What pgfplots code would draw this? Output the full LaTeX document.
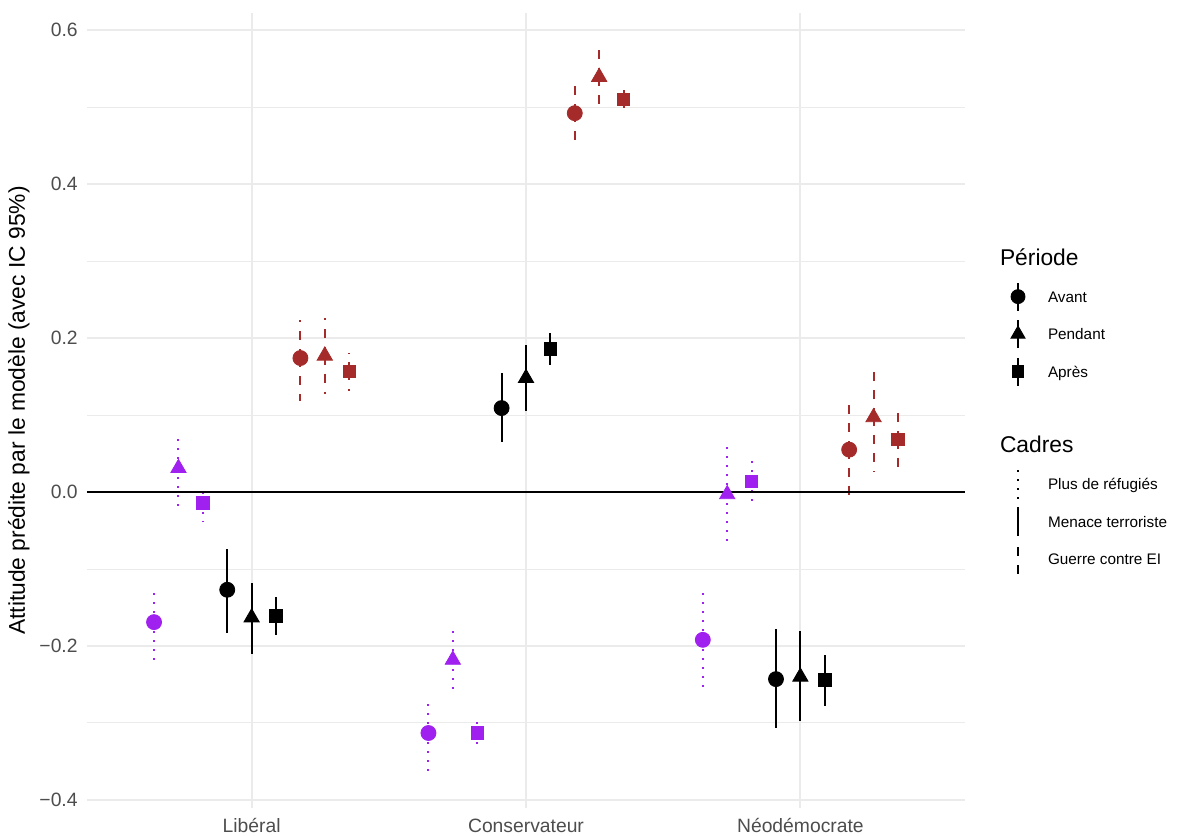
\documentclass[border=0pt]{standalone}
\usepackage{pgfplots}
\pgfplotsset{compat=1.18}
\usepackage{pgfplotstable}
\usepackage{fontspec}
\setmainfont{Liberation Sans}

\definecolor{refcol}{HTML}{A020F0}
\definecolor{warcol}{HTML}{A52A2A}
\definecolor{gridcol}{HTML}{EBEBEB}
\definecolor{tickcol}{HTML}{4D4D4D}

% Predicted attitude by party (cat: 1 = Libéral, 2 = Conservateur, 3 = Néodémocrate)
% y0/lo0/hi0 = Avant, y1/lo1/hi1 = Pendant, y2/lo2/hi2 = Après
\pgfplotstableread{
cat y0 lo0 hi0 y1 lo1 hi1 y2 lo2 hi2
1 -0.169 -0.219 -0.125  0.031 -0.019  0.075 -0.014 -0.038  0.009
2 -0.313 -0.362 -0.269 -0.218 -0.260 -0.176 -0.313 -0.331 -0.296
3 -0.192 -0.258 -0.128 -0.003 -0.071  0.058  0.014 -0.021  0.049
}\refugies
\pgfplotstableread{
cat y0 lo0 hi0 y1 lo1 hi1 y2 lo2 hi2
1 -0.127 -0.183 -0.074 -0.163 -0.210 -0.118 -0.161 -0.186 -0.136
2  0.109  0.065  0.154  0.148  0.105  0.191  0.186  0.165  0.206
3 -0.243 -0.307 -0.178 -0.240 -0.297 -0.181 -0.244 -0.278 -0.212
}\terreur
\pgfplotstableread{
cat y0 lo0 hi0 y1 lo1 hi1 y2 lo2 hi2
1  0.174  0.118  0.223  0.177  0.127  0.226  0.157  0.131  0.181
2  0.492  0.447  0.527  0.539  0.504  0.575  0.510  0.491  0.525
3  0.055 -0.014  0.114  0.097  0.026  0.156  0.068  0.030  0.104
}\guerre

\pgfplotsset{
  pr/.style={forget plot, only marks,
    error bars/y dir=both, error bars/y explicit, error bars/error mark=none},
  avant/.style={mark=*, mark size=3.75pt},
  pendant/.style={mark=triangle*, mark size=4.4pt},
  apres/.style={mark=square*, mark size=3.1pt},
  dotline/.style={line width=1pt, line cap=butt, dash pattern=on 1pt off 3.5pt},
  solidline/.style={line width=1pt, line cap=butt, solid},
  dashline/.style={line width=1pt, line cap=butt, dash pattern=on 4.5pt off 4.5pt},
  periodkey/.style={legend image code/.code={
      \draw[black, solid, line width=1pt] (0pt,-7pt) -- (0pt,7pt);
      \draw[##1] plot coordinates {(0pt,0pt)};
      \path[draw=none, fill=none] (-6pt,0pt) -- (6pt,0pt);}},
  framekey/.style={legend image code/.code={
      \draw[##1] (0pt,-7.25pt) -- (0pt,7.25pt);
      \path[draw=none, fill=none] (-6pt,0pt) -- (6pt,0pt);}},
}

\begin{document}
\begin{tikzpicture}
\useasboundingbox (0,0) rectangle (599pt,417.5pt);
\begin{axis}[
  at={(43.5pt,13.5pt)}, anchor=south west,
  scale only axis, width=439pt, height=397.5pt,
  xmin=0.4, xmax=3.6, ymin=-0.4104, ymax=0.6221,
  axis x line*=bottom, axis y line*=left,
  axis line style={draw=none},
  major tick length=0pt, minor tick length=0pt,
  tick style={draw=none},
  xtick={1,2,3},
  xticklabels={Libéral, Conservateur, Néodémocrate},
  ytick={-0.4,-0.2,0,0.2,0.4,0.6},
  yticklabels={−0.4,−0.2,0.0,0.2,0.4,0.6},
  minor ytick={-0.3,-0.1,0.1,0.3,0.5},
  xmajorgrids, ymajorgrids, yminorgrids,
  major grid style={gridcol, line width=1pt},
  minor grid style={gridcol, line width=0.5pt},
  tick label style={font=\fontsize{9.65}{11}\selectfont, text=tickcol},
  yticklabel style={inner sep=0pt, xshift=-4.5pt},
  xticklabel style={inner sep=0pt, text height=7pt, text depth=2pt, yshift=-5pt},
  ylabel={Attitude prédite par le modèle (avec IC 95\%)},
  ylabel style={at={(axis description cs:-0.0775,0.5)}, anchor=center,
    font=\fontsize{11.4}{13}\selectfont},
  legend style={at={(axis description cs:1.0467,0.7140)}, anchor=north west,
    draw=none, fill=none, inner sep=0pt, outer sep=0pt,
    row sep=0pt, column sep=9pt,
    nodes={inner sep=0pt, text height=12.1pt, text depth=6.65pt,
      font=\fontsize{7.65}{9}\selectfont}},
  legend cell align=left,
]

% Plus de réfugiés
\addplot[refcol, pr, avant, mark options={solid, draw=none, fill=refcol},
  error bars/error bar style={refcol, dotline}]
  table[x expr=\thisrow{cat}-0.35556, y=y0,
    y error plus expr=\thisrow{hi0}-\thisrow{y0},
    y error minus expr=\thisrow{y0}-\thisrow{lo0}] {\refugies};
\addplot[refcol, pr, pendant, mark options={solid, draw=none, fill=refcol},
  error bars/error bar style={refcol, dotline}]
  table[x expr=\thisrow{cat}-0.26667, y=y1,
    y error plus expr=\thisrow{hi1}-\thisrow{y1},
    y error minus expr=\thisrow{y1}-\thisrow{lo1}] {\refugies};
\addplot[refcol, pr, apres, mark options={solid, draw=none, fill=refcol},
  error bars/error bar style={refcol, dotline}]
  table[x expr=\thisrow{cat}-0.17778, y=y2,
    y error plus expr=\thisrow{hi2}-\thisrow{y2},
    y error minus expr=\thisrow{y2}-\thisrow{lo2}] {\refugies};

% Menace terroriste
\addplot[black, pr, avant, mark options={solid, draw=none, fill=black},
  error bars/error bar style={black, solidline}]
  table[x expr=\thisrow{cat}-0.08889, y=y0,
    y error plus expr=\thisrow{hi0}-\thisrow{y0},
    y error minus expr=\thisrow{y0}-\thisrow{lo0}] {\terreur};
\addplot[black, pr, pendant, mark options={solid, draw=none, fill=black},
  error bars/error bar style={black, solidline}]
  table[x expr=\thisrow{cat}, y=y1,
    y error plus expr=\thisrow{hi1}-\thisrow{y1},
    y error minus expr=\thisrow{y1}-\thisrow{lo1}] {\terreur};
\addplot[black, pr, apres, mark options={solid, draw=none, fill=black},
  error bars/error bar style={black, solidline}]
  table[x expr=\thisrow{cat}+0.08889, y=y2,
    y error plus expr=\thisrow{hi2}-\thisrow{y2},
    y error minus expr=\thisrow{y2}-\thisrow{lo2}] {\terreur};

% Guerre contre EI
\addplot[warcol, pr, avant, mark options={solid, draw=none, fill=warcol},
  error bars/error bar style={warcol, dashline}]
  table[x expr=\thisrow{cat}+0.17778, y=y0,
    y error plus expr=\thisrow{hi0}-\thisrow{y0},
    y error minus expr=\thisrow{y0}-\thisrow{lo0}] {\guerre};
\addplot[warcol, pr, pendant, mark options={solid, draw=none, fill=warcol},
  error bars/error bar style={warcol, dashline}]
  table[x expr=\thisrow{cat}+0.26667, y=y1,
    y error plus expr=\thisrow{hi1}-\thisrow{y1},
    y error minus expr=\thisrow{y1}-\thisrow{lo1}] {\guerre};
\addplot[warcol, pr, apres, mark options={solid, draw=none, fill=warcol},
  error bars/error bar style={warcol, dashline}]
  table[x expr=\thisrow{cat}+0.35556, y=y2,
    y error plus expr=\thisrow{hi2}-\thisrow{y2},
    y error minus expr=\thisrow{y2}-\thisrow{lo2}] {\guerre};

% reference line at zero
\addplot[black, line width=1pt, forget plot] coordinates {(0.4,0) (3.6,0)};

% legend: Période
\addlegendimage{empty legend}
\addlegendentry{\hspace{-24pt}\raisebox{-0.3pt}{\fontsize{11.4}{13}\selectfont Période}}
\addlegendimage{periodkey, black, only marks, mark=*, mark size=3.5pt,
  mark options={draw=none, fill=black}}
\addlegendentry{Avant}
\addlegendimage{periodkey, black, only marks, mark=triangle*, mark size=4.1pt,
  mark options={draw=none, fill=black}}
\addlegendentry{Pendant}
\addlegendimage{periodkey, black, only marks, mark=square*, mark size=2.9pt,
  mark options={draw=none, fill=black}}
\addlegendentry{Après}
\addlegendimage{empty legend}
\addlegendentry{}
% legend: Cadres
\addlegendimage{empty legend}
\addlegendentry{\hspace{-24pt}\raisebox{-0.3pt}{\fontsize{11.4}{13}\selectfont Cadres}}
\addlegendimage{framekey, black, dotline}
\addlegendentry{Plus de réfugiés}
\addlegendimage{framekey, black, solidline}
\addlegendentry{Menace terroriste}
\addlegendimage{framekey, black, dashline}
\addlegendentry{Guerre contre EI}
\end{axis}
\end{tikzpicture}
\end{document}
